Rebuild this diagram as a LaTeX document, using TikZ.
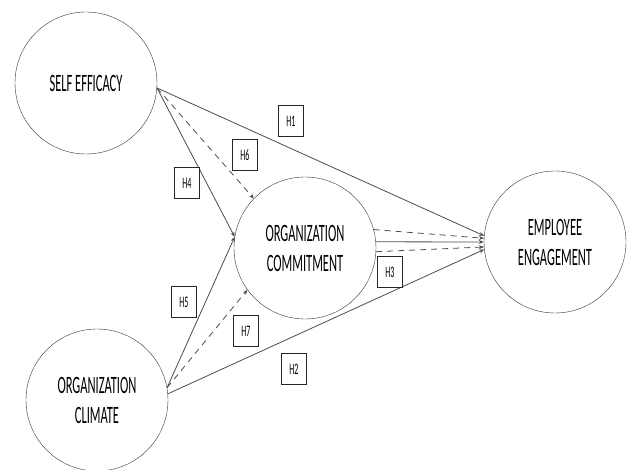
\documentclass[tikz,border=0pt]{standalone}
\usepackage{fontspec}
\newfontfamily\narrowfont[FakeStretch=0.5]{Carlito}
\usetikzlibrary{arrows.meta}

\begin{document}
\begin{tikzpicture}[x=1pt,y=-1pt,
    construct/.style={draw=black!80, circle, minimum size=142pt, inner sep=0pt,
        align=center, font=\narrowfont\fontsize{25}{30}\selectfont},
    hyp/.style={draw=black!85, fill=white, minimum width=25pt, minimum height=31pt,
        inner sep=0pt, font=\narrowfont\fontsize{16}{18}\selectfont},
    link/.style={draw=black!70, line width=0.8pt, -{Stealth[length=5pt,width=4pt]}},
    medlink/.style={link, dash pattern=on 6pt off 5pt}]
    % Setup
    \useasboundingbox (0,0) rectangle (629,470);

    % Constructs
    \node[construct] (se)  at (86,83)   {SELF EFFICACY};
    \node[construct] (ocl) at (97,400)  {ORGANIZATION\\CLIMATE};
    \node[construct] (oc)  at (305,248) {ORGANIZATION\\COMMITMENT};
    \node[construct] (ee)  at (555,242) {EMPLOYEE\\ENGAGEMENT};

    % Direct paths
    \draw[link] (se.-4) -- (ee.175);
    \draw[link] (ocl.5) -- (ee.186);
    \draw[link] (oc.5) -- (ee.180);
    \draw[link] (se.-4) -- (oc.171);
    \draw[link] (ocl.10) -- (oc.171);

    % Mediated paths (dashed)
    \draw[medlink] (se.-4) -- (oc.136);
    \draw[medlink] (ocl.10) -- (oc.-144);
    \draw[medlink] (oc.15) -- (ee.177);
    \draw[medlink] (oc.-3) -- (ee.184);

    % Hypothesis labels
    \node[hyp] (h1) at (291,121) {H1};
    \node[hyp] (h2) at (294,369) {H2};
    \node[hyp] (h3) at (390,272) {H3};
    \node[hyp] (h4) at (187,183) {H4};
    \node[hyp] (h5) at (184,302) {H5};
    \node[hyp] (h6) at (245,155) {H6};
    \node[hyp] (h7) at (246,331) {H7};
\end{tikzpicture}
\end{document}
